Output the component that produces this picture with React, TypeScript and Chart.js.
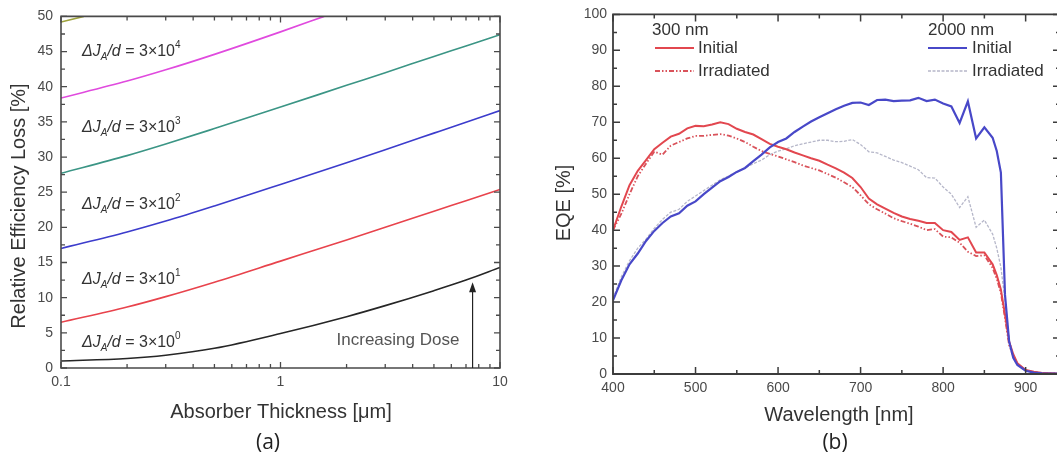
import React, { useEffect, useRef } from "react";
import { Chart, registerables } from "chart.js";

Chart.register(...registerables);

const FONT = '"Liberation Sans", Arial, Helvetica, sans-serif';
const CAPTION_FONT = '"Open Sans", "Liberation Sans", sans-serif';

// ---------------- Panel (a): relative efficiency loss vs absorber thickness ----------------
const thickness = [0.1, 0.2, 0.3, 0.5, 1, 2, 3, 5, 7, 10];
const lossDose0 = [1.0, 1.36, 1.82, 2.8, 4.9, 7.3, 8.87, 11.0, 12.5, 14.3];
const lossDose1 = [6.5, 8.67, 10.15, 12.2, 15.2, 18.2, 20.0, 22.3, 23.8, 25.4];
const lossDose2 = [17.0, 19.35, 20.9, 23.05, 26.1, 29.2, 31.05, 33.4, 34.95, 36.6];
const lossDose3 = [27.7, 30.2, 31.85, 34.05, 37.1, 40.2, 42.0, 44.3, 45.8, 47.4];
const thicknessDose4 = [0.1, 0.2, 0.3, 0.5, 1, 1.58];
const lossDose4 = [38.4, 40.8, 42.4, 44.6, 47.8, 50];
const thicknessDose5 = [0.1, 0.127];
const lossDose5 = [49.2, 50];
const doseExponents = ["0", "1", "2", "3", "4"];
const thicknessTicks = [0.1, 1, 10];
const thicknessMinorTicks = [0.2, 0.3, 0.4, 0.5, 0.6, 0.7, 0.8, 0.9, 2, 3, 4, 5, 6, 7, 8, 9];
const lossTicks = [0, 5, 10, 15, 20, 25, 30, 35, 40, 45, 50];
const lossMinorTicks = [2.5, 7.5, 12.5, 17.5, 22.5, 27.5, 32.5, 37.5, 42.5, 47.5];
const arrowThickness = 7.5;
const arrowTop = 12.2;

// ---------------- Panel (b): EQE vs wavelength ----------------
const wavelength = [
  400, 410, 420, 430, 440, 450, 460, 470, 480, 490,
  500, 510, 520, 530, 540, 550, 560, 570, 580, 590,
  600, 610, 620, 630, 640, 650, 660, 670, 680, 690,
  700, 710, 720, 730, 740, 750, 760, 770, 780, 790,
  800, 810, 820, 830, 840, 850, 860, 865, 870, 875,
  880, 885, 890, 900, 910, 920, 930, 940,
];
const eqe300Initial = [
  40, 46.5, 52.5, 56.5, 59.5, 62.5, 64.3, 66, 66.8, 68.3,
  69, 68.9, 69.4, 70, 69.5, 68.2, 67.3, 66.6, 65.3, 64,
  63.2, 62.5, 61.6, 60.8, 60, 59.3, 58.2, 57.2, 56, 54.5,
  52, 48.8, 47.2, 46, 44.8, 43.8, 43.1, 42.6, 42, 42,
  40, 39.5, 37.3, 38, 33.8, 33.8, 30.5, 27.5, 23.5, 16.5,
  9, 5.5, 3, 1.1, 0.6, 0.3, 0.2, 0.1,
];
const eqe300Irradiated = [
  40, 44.5, 50, 55, 58.5, 61.8, 61, 63.5, 64.5, 65.5,
  66.2, 66.2, 66.5, 66.7, 66.3, 65.5, 64.5, 63.2, 62, 61.2,
  60.5, 59.7, 58.9, 58, 57.3, 56.6, 55.6, 54.6, 53.3, 52,
  49.7, 47.2, 45.8, 44.6, 43.3, 42.5, 41.8, 41, 40, 40.3,
  38.2, 38, 36.5, 34, 32.8, 33, 29.5, 26.5, 22.5, 15.5,
  8, 5, 2.8, 1, 0.5, 0.3, 0.2, 0.1,
];
const eqe2000Initial = [
  20.5, 26, 30.5, 33.5, 37, 39.8, 42, 43.8, 44.7, 46.8,
  48, 50, 51.8, 53.6, 54.8, 56.2, 57.3, 59.2, 61, 63,
  64.5, 65.5, 67.3, 68.8, 70.2, 71.4, 72.5, 73.6, 74.6, 75.4,
  75.5, 74.8, 76.2, 76.3, 75.9, 76, 76.1, 76.8, 75.9, 76.3,
  75.2, 74.4, 69.8, 75.8, 65.5, 68.6, 65.7, 62, 56, 22,
  9, 4.5, 2.5, 0.9, 0.4, 0.2, 0.1, 0.1,
];
const eqe2000Irradiated = [
  21, 27, 31.5, 35, 37.5, 40.5, 43, 45, 45.8, 48,
  49.5, 51, 52.5, 54, 55, 56.3, 57.3, 58.5, 59.5, 61,
  62, 62.6, 63.5, 64, 64.5, 65, 65, 64.6, 64.7, 65.2,
  63.8, 61.8, 61.5, 60.5, 59.5, 58.8, 57.8, 56.8, 54.6, 54.5,
  52, 50, 46.3, 49.3, 40.8, 42.8, 38.9, 35, 29.7, 20.5,
  9.4, 5, 3, 1.1, 0.5, 0.3, 0.2, 0.1,
];
const wavelengthTicks = [400, 500, 600, 700, 800, 900];
const wavelengthMinorTicks = [450, 550, 650, 750, 850];
const eqeTicks = [0, 10, 20, 30, 40, 50, 60, 70, 80, 90, 100];
const eqeMinorTicks = [5, 15, 25, 35, 45, 55, 65, 75, 85, 95];

const RED = "#e2474f";
const RED_DASH = "#d9525a";
const BLUE = "#4848c8";
const GRAY = "#b6b7c9";

const pts = (xs: number[], ys: number[]) => xs.map((x, i) => ({ x, y: ys[i] }));

type FrameCfg = {
  sides: string[];
  tickSides: string[];
  color: string;
  width: number;
  major: number;
  minor: number;
  xMajor: number[];
  xMinor: number[];
  yMajor: number[];
  yMinor: number[];
  hiddenRightOffset?: number;
};

function framePlugin(f: FrameCfg) {
  return {
    id: "frameTicks",
    afterDatasetsDraw(chart: any) {
      const { ctx, chartArea: a, scales } = chart;
      const sx = scales.x;
      const sy = scales.y;
      ctx.save();
      ctx.strokeStyle = f.color;
      ctx.lineWidth = f.width;
      ctx.setLineDash([]);
      ctx.beginPath();
      const h = f.width / 2;
      if (f.sides.includes("left")) { ctx.moveTo(a.left, a.top - h); ctx.lineTo(a.left, a.bottom + h); }
      if (f.sides.includes("right")) { ctx.moveTo(a.right, a.top - h); ctx.lineTo(a.right, a.bottom + h); }
      if (f.sides.includes("top")) { ctx.moveTo(a.left, a.top); ctx.lineTo(a.right, a.top); }
      if (f.sides.includes("bottom")) { ctx.moveTo(a.left, a.bottom); ctx.lineTo(a.right, a.bottom); }
      ctx.stroke();
      ctx.lineWidth = Math.max(1, f.width - 0.3);
      ctx.beginPath();
      const xTick = (vals: number[], len: number) => {
        for (const v of vals) {
          const p = sx.getPixelForValue(v);
          if (p < a.left - 1 || p > a.right + 1) continue;
          if (f.tickSides.includes("bottom")) { ctx.moveTo(p, a.bottom); ctx.lineTo(p, a.bottom - len); }
          if (f.tickSides.includes("top")) { ctx.moveTo(p, a.top); ctx.lineTo(p, a.top + len); }
        }
      };
      const yTick = (vals: number[], len: number) => {
        for (const v of vals) {
          const p = sy.getPixelForValue(v);
          if (p < a.top - 1 || p > a.bottom + 1) continue;
          if (f.tickSides.includes("left")) { ctx.moveTo(a.left, p); ctx.lineTo(a.left + len, p); }
          if (f.tickSides.includes("right")) { ctx.moveTo(a.right, p); ctx.lineTo(a.right - len, p); }
          if (f.hiddenRightOffset !== undefined) {
            const rx = a.right + f.hiddenRightOffset;
            ctx.moveTo(rx, p);
            ctx.lineTo(rx - len, p);
          }
        }
      };
      xTick(f.xMajor, f.major);
      xTick(f.xMinor, f.minor);
      yTick(f.yMajor, f.major);
      yTick(f.yMinor, f.minor);
      ctx.stroke();
      ctx.restore();
    },
  };
}

function drawDoseLabel(ctx: CanvasRenderingContext2D, x: number, cy: number, exp: string) {
  const base = cy + 6;
  let cx = x;
  const part = (t: string, font: string, dy = 0) => {
    ctx.font = font;
    ctx.fillText(t, cx, base + dy);
    cx += ctx.measureText(t).width;
  };
  part("\u0394", `italic 16px ${FONT}`);
  part("J", `italic 16px ${FONT}`);
  part("A", `italic 10px ${FONT}`, 4);
  part("/", `italic 16px ${FONT}`);
  part("d", `italic 16px ${FONT}`);
  part(" = 3\u00d710", `16px ${FONT}`);
  part(exp, `10px ${FONT}`, -8);
}

const textPluginA = {
  id: "textA",
  afterDraw(chart: any) {
    const { ctx, scales } = chart;
    ctx.save();
    ctx.fillStyle = "#333";
    ctx.textAlign = "center";
    ctx.textBaseline = "middle";
    ctx.font = `20px ${FONT}`;
    ctx.fillText("Absorber Thickness [\u03bcm]", 281, 412);
    ctx.save();
    ctx.translate(19, 206);
    ctx.rotate(-Math.PI / 2);
    ctx.fillText("Relative Efficiency Loss [%]", 0, 0);
    ctx.restore();
    ctx.fillStyle = "#222";
    ctx.font = `21px ${CAPTION_FONT}`;
    ctx.fillText("(a)", 268, 443);

    ctx.textAlign = "left";
    ctx.textBaseline = "alphabetic";
    ctx.fillStyle = "#333";
    const labelY = [341, 278, 203, 126, 50];
    doseExponents.forEach((e, i) => drawDoseLabel(ctx, 82, labelY[i], e));

    ctx.font = `17px ${FONT}`;
    ctx.fillStyle = "#555";
    ctx.textAlign = "center";
    ctx.textBaseline = "middle";
    ctx.fillText("Increasing Dose", 398, 340);

    const ax = scales.x.getPixelForValue(arrowThickness);
    const y0 = scales.y.getPixelForValue(0);
    const y1 = scales.y.getPixelForValue(arrowTop);
    ctx.strokeStyle = "#222";
    ctx.fillStyle = "#222";
    ctx.lineWidth = 1.2;
    ctx.beginPath();
    ctx.moveTo(ax, y0);
    ctx.lineTo(ax, y1 + 8);
    ctx.stroke();
    ctx.beginPath();
    ctx.moveTo(ax, y1);
    ctx.lineTo(ax - 3.5, y1 + 10);
    ctx.lineTo(ax + 3.5, y1 + 10);
    ctx.closePath();
    ctx.fill();
    ctx.restore();
  },
};

const textPluginB = {
  id: "textB",
  afterDraw(chart: any) {
    const { ctx } = chart;
    ctx.save();
    ctx.fillStyle = "#333";
    ctx.textAlign = "center";
    ctx.textBaseline = "middle";
    ctx.font = `20px ${FONT}`;
    ctx.fillText("Wavelength [nm]", 309, 415);
    ctx.save();
    ctx.translate(34, 203);
    ctx.rotate(-Math.PI / 2);
    ctx.fillText("EQE [%]", 0, 0);
    ctx.restore();
    ctx.fillStyle = "#222";
    ctx.font = `21px ${CAPTION_FONT}`;
    ctx.fillText("(b)", 305, 443);

    // legend
    ctx.textAlign = "left";
    ctx.fillStyle = "#333";
    ctx.font = `17px ${FONT}`;
    ctx.fillText("300 nm", 122, 30);
    ctx.fillText("Initial", 168, 48);
    ctx.fillText("Irradiated", 168, 71);
    ctx.fillText("2000 nm", 398, 30);
    ctx.fillText("Initial", 442, 48);
    ctx.fillText("Irradiated", 442, 71);

    const sample = (x0: number, x1: number, y: number, color: string, w: number, dash: number[]) => {
      ctx.strokeStyle = color;
      ctx.lineWidth = w;
      ctx.setLineDash(dash);
      ctx.beginPath();
      ctx.moveTo(x0, y);
      ctx.lineTo(x1, y);
      ctx.stroke();
    };
    sample(125, 164, 48, RED, 2, []);
    sample(125, 164, 71, RED_DASH, 1.8, [5, 2, 1.5, 2, 1.5, 2]);
    sample(398, 437, 48, BLUE, 2.2, []);
    sample(398, 437, 71, GRAY, 1.3, [3, 1.5]);
    ctx.restore();
  },
};

function tickFont() {
  return { family: FONT, size: 14 };
}

function PanelA() {
  const ref = useRef<HTMLCanvasElement>(null);
  useEffect(() => {
    if (!ref.current) return;
    const line = (xs: number[], ys: number[], color: string) => ({
      data: pts(xs, ys),
      borderColor: color,
      borderWidth: 1.6,
      pointRadius: 0,
      cubicInterpolationMode: "monotone" as const,
      fill: false,
    });
    const chart = new Chart(ref.current, {
      type: "line",
      data: {
        datasets: [
          line(thicknessDose5, lossDose5, "#9ea23c"),
          line(thicknessDose4, lossDose4, "#e04ade"),
          line(thickness, lossDose3, "#3b9585"),
          line(thickness, lossDose2, "#3c3ccc"),
          line(thickness, lossDose1, "#e8434c"),
          line(thickness, lossDose0, "#262626"),
        ],
      },
      options: {
        animation: false,
        responsive: false,
        devicePixelRatio: 1,
        layout: { padding: { top: 16, right: 30, left: 0, bottom: 0 } },
        plugins: { legend: { display: false }, tooltip: { enabled: false } },
        scales: {
          x: {
            type: "logarithmic",
            min: 0.1,
            max: 10,
            grid: { display: false, drawTicks: false },
            border: { display: false },
            afterBuildTicks: (s: any) => { s.ticks = thicknessTicks.map((v) => ({ value: v })); },
            afterFit: (s: any) => { s.height = 94; },
            ticks: {
              autoSkip: false,
              maxRotation: 0,
              padding: 6,
              color: "#4a4a4a",
              font: tickFont(),
              callback: (v: any) => String(v),
            },
          },
          y: {
            type: "linear",
            min: 0,
            max: 50,
            grid: { display: false, drawTicks: false },
            border: { display: false },
            afterBuildTicks: (s: any) => { s.ticks = lossTicks.map((v) => ({ value: v })); },
            afterFit: (s: any) => { s.width = 61; },
            ticks: { padding: 8, color: "#4a4a4a", font: tickFont(), autoSkip: false },
          },
        },
      } as any,
      plugins: [
        framePlugin({
          sides: ["left", "right", "top", "bottom"],
          tickSides: ["left", "right", "top", "bottom"],
          color: "#4a4a4a",
          width: 1.6,
          major: 6,
          minor: 4,
          xMajor: thicknessTicks,
          xMinor: thicknessMinorTicks,
          yMajor: lossTicks,
          yMinor: lossMinorTicks,
        }),
        textPluginA,
      ],
    });
    return () => chart.destroy();
  }, []);
  return <canvas ref={ref} width={530} height={462} style={{ position: "absolute", left: 0, top: 0 }} />;
}

function PanelB() {
  const ref = useRef<HTMLCanvasElement>(null);
  useEffect(() => {
    if (!ref.current) return;
    const chart = new Chart(ref.current, {
      type: "line",
      data: {
        datasets: [
          { data: pts(wavelength, eqe2000Initial), borderColor: BLUE, borderWidth: 2.2, pointRadius: 0, tension: 0 },
          { data: pts(wavelength, eqe300Initial), borderColor: RED, borderWidth: 2, pointRadius: 0, tension: 0 },
          {
            data: pts(wavelength, eqe300Irradiated),
            borderColor: RED_DASH,
            borderWidth: 1.8,
            borderDash: [5, 2, 1.5, 2, 1.5, 2],
            pointRadius: 0,
            tension: 0,
          },
          {
            data: pts(wavelength, eqe2000Irradiated),
            borderColor: GRAY,
            borderWidth: 1.3,
            borderDash: [3, 1.5],
            pointRadius: 0,
            tension: 0,
          },
        ],
      },
      options: {
        animation: false,
        responsive: false,
        devicePixelRatio: 1,
        layout: { padding: { top: 13, right: 0, left: 0, bottom: 0 } },
        plugins: { legend: { display: false }, tooltip: { enabled: false } },
        scales: {
          x: {
            type: "linear",
            min: 400,
            max: 938,
            grid: { display: false, drawTicks: false },
            border: { display: false },
            afterBuildTicks: (s: any) => { s.ticks = wavelengthTicks.map((v) => ({ value: v })); },
            afterFit: (s: any) => { s.height = 88; },
            ticks: { autoSkip: false, maxRotation: 0, padding: 6, color: "#4a4a4a", font: tickFont() },
          },
          y: {
            type: "linear",
            min: 0,
            max: 100,
            grid: { display: false, drawTicks: false },
            border: { display: false },
            afterBuildTicks: (s: any) => { s.ticks = eqeTicks.map((v) => ({ value: v })); },
            afterFit: (s: any) => { s.width = 83; },
            ticks: { padding: 6, color: "#4a4a4a", font: tickFont(), autoSkip: false },
          },
        },
      } as any,
      plugins: [
        framePlugin({
          sides: ["left", "top", "bottom"],
          tickSides: ["left", "top", "bottom"],
          color: "#3c3c3c",
          width: 1.8,
          major: 7,
          minor: 4,
          xMajor: wavelengthTicks,
          xMinor: wavelengthMinorTicks,
          yMajor: eqeTicks,
          yMinor: eqeMinorTicks,
          hiddenRightOffset: 3,
        }),
        textPluginB,
      ],
    });
    return () => chart.destroy();
  }, []);
  return <canvas ref={ref} width={527} height={462} style={{ position: "absolute", left: 530, top: 0 }} />;
}

export default function App() {
  return (
    <div style={{ position: "fixed", left: 0, top: 0, width: 1057, height: 462, background: "#fff", overflow: "hidden" }}>
      <PanelA />
      <PanelB />
    </div>
  );
}
